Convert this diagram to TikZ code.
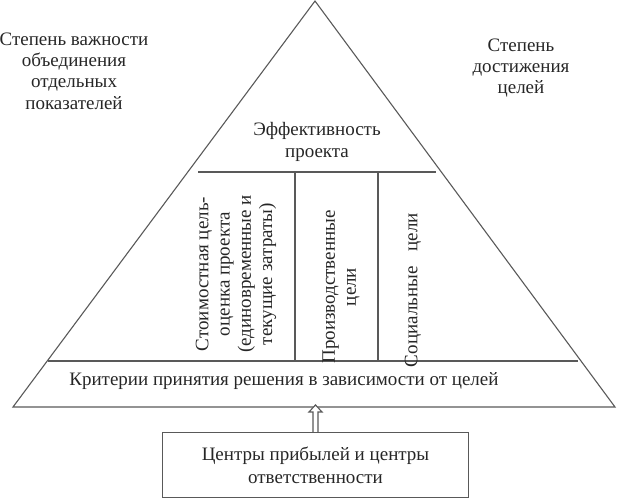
\documentclass[tikz,border=0pt]{standalone}
\usepackage{fontspec}
\setmainfont{Liberation Serif}
\tikzset{>=latex}

\begin{document}
\begin{tikzpicture}[x=0.5pt,y=-0.5pt,
    edge/.style={draw=black!65,line width=0.55pt},
    lbl/.style={align=center,inner sep=0pt,text=black!85,
      font=\fontsize{9.5}{10.6}\selectfont}]
  \useasboundingbox (0,0) rectangle (617,499);
  % pyramid
  \coordinate (top) at (315,1);
  \coordinate (bl) at (13,407);
  \coordinate (br) at (615,407);
  \draw[edge] (top) -- (bl) -- (br) -- cycle;
  \coordinate (e1) at (198,172);
  \coordinate (e2) at (436,172);
  \coordinate (k1) at (48,361);
  \coordinate (k2) at (578,361);
  \draw[edge] (e1) -- (e2);
  \draw[edge] (k1) -- (k2);
  \foreach \x in {295,378}
    \draw[edge] (\x,172) -- (\x,361);
  % labels
  \node[lbl] (weight) at (74,71) {Степень важности\\объединения\\отдельных\\показателей};
  \node[lbl] (reach) at (521,68) {Степень\\достижения\\целей};
  \node[lbl] (eff) at (317,142) {Эффективность\\проекта};
  \node[lbl,rotate=90] (cost) at (236,274) {Стоимостная цель-\\оценка проекта\\(единовременные и\\текущие затраты)};
  \node[lbl,rotate=90] (prod) at (341,287) {Производственные\\цели};
  \node[lbl,rotate=90] (soc) at (413,290) {Социальные\hspace{0.8em}цели};
  \node[lbl] (crit) at (284,381) {Критерии принятия решения в зависимости от целей};
  \node[lbl,draw=black!65,line width=0.55pt,minimum width=153pt,minimum height=32.5pt,
    font=\fontsize{9.5}{11.5}\selectfont] (centres) at (315.5,465)
    {Центры прибылей и центры\\ответственности};
  % hollow arrow up to the base
  \draw[edge,fill=white] (centres.north) ++(-2.5,0) -- ++(0,-20) -- ++(-4,0)
    -- ++(6.5,-7) -- ++(6.5,7) -- ++(-4,0) -- ++(0,20);
\end{tikzpicture}
\end{document}
